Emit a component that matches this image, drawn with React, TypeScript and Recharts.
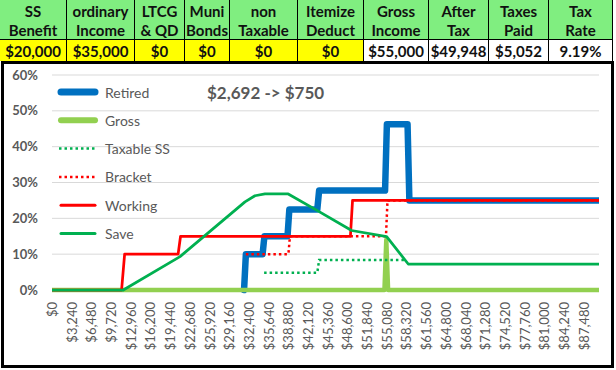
import React from 'react';
import { LineChart, Line, XAxis, YAxis, CartesianGrid } from 'recharts';

// input / result table
const headers = [
  ['SS', 'Benefit'],
  ['ordinary', 'Income'],
  ['LTCG', '& QD'],
  ['Muni', 'Bonds'],
  ['non', 'Taxable'],
  ['Itemize', 'Deduct'],
  ['Gross', 'Income'],
  ['After', 'Tax'],
  ['Taxes', 'Paid'],
  ['Tax', 'Rate'],
];
const values = ['$20,000', '$35,000', '$0', '$0', '$0', '$0', '$55,000', '$49,948', '$5,052', '9.19%'];
const inputCount = 6;
const colWidths = [67, 68, 50, 45, 68, 66, 65, 60, 60, 64];

// marginal rate curves: income ($) -> rate (%)
const retired = [
  { income: 31600, rate: 0 },
  { income: 31900, rate: 10 },
  { income: 34650, rate: 10 },
  { income: 34950, rate: 15 },
  { income: 38750, rate: 15 },
  { income: 39050, rate: 22.5 },
  { income: 43650, rate: 22.5 },
  { income: 43950, rate: 27.75 },
  { income: 54800, rate: 27.75 },
  { income: 55100, rate: 46.25 },
  { income: 58500, rate: 46.25 },
  { income: 58800, rate: 25 },
  { income: 90000, rate: 25 },
];
const gross = [
  { income: 0, rate: 0 },
  { income: 54700, rate: 0 },
  { income: 55000, rate: 14 },
  { income: 55300, rate: 0 },
  { income: 90000, rate: 0 },
];
const taxableSS = [
  { income: 34900, rate: 4.8 },
  { income: 43650, rate: 4.8 },
  { income: 43950, rate: 8.4 },
  { income: 58200, rate: 8.4 },
];
const bracket = [
  { income: 31900, rate: 10 },
  { income: 38900, rate: 10 },
  { income: 39150, rate: 15 },
  { income: 54950, rate: 15 },
  { income: 55200, rate: 25 },
  { income: 90000, rate: 25 },
];
const working = [
  { income: 0, rate: 0 },
  { income: 11450, rate: 0 },
  { income: 11950, rate: 10 },
  { income: 20750, rate: 10 },
  { income: 21150, rate: 15 },
  { income: 49100, rate: 15 },
  { income: 49450, rate: 25 },
  { income: 90000, rate: 25 },
];
const save = [
  { income: 0, rate: 0 },
  { income: 11730, rate: 0 },
  { income: 21060, rate: 9.3 },
  { income: 31750, rate: 24.6 },
  { income: 33390, rate: 26.3 },
  { income: 35040, rate: 26.8 },
  { income: 38870, rate: 26.8 },
  { income: 43810, rate: 22.0 },
  { income: 49300, rate: 16.6 },
  { income: 55060, rate: 14.9 },
  { income: 58610, rate: 7.25 },
  { income: 90000, rate: 7.25 },
];

const incomeTicks = [
  0, 3240, 6480, 9720, 12960, 16200, 19440, 22680, 25920, 29160, 32400, 35640, 38880, 42120,
  45360, 48600, 51840, 55080, 58320, 61560, 64800, 68040, 71280, 74520, 77760, 81000, 84240, 87480,
];
const rateTicks = [0, 10, 20, 30, 40, 50, 60];

const legendItems = [
  { name: 'Retired', color: '#0070C0', width: 7, dash: undefined },
  { name: 'Gross', color: '#92D050', width: 6, dash: undefined },
  { name: 'Taxable SS', color: '#00B050', width: 2.5, dash: '2.5 3' },
  { name: 'Bracket', color: '#FF0000', width: 2.5, dash: '2.5 3' },
  { name: 'Working', color: '#FF0000', width: 3, dash: undefined },
  { name: 'Save', color: '#00B050', width: 3, dash: undefined },
];

const FONT = 'Lato, sans-serif';
const TEXT = '#595959';

const money = (v: number) => '$' + v.toLocaleString('en-US');

const IncomeTick = ({ x, y, payload }: any) => (
  <g transform={`translate(${x},${y + 12})`}>
    <text transform="rotate(-90)" textAnchor="end" dominantBaseline="central" fontSize={13} fill={TEXT} fontFamily={FONT}>
      {money(payload.value)}
    </text>
  </g>
);

const InputTable = () => {
  let left = 0;
  return (
    <>
      {headers.map((h, i) => {
        const l = left;
        left += colWidths[i];
        return (
          <React.Fragment key={i}>
            <div
              style={{
                position: 'absolute', left: l, top: 0, width: colWidths[i], height: 40, boxSizing: 'border-box',
                borderRight: '1px solid #000', borderBottom: '1px solid #000', background: '#80EE80',
                textAlign: 'center', fontWeight: 700, fontSize: 15, lineHeight: '19px', paddingTop: 2, color: '#111',
              }}
            >
              {h[0]}<br />{h[1]}
            </div>
            <div
              style={{
                position: 'absolute', left: l, top: 40, width: colWidths[i], height: 21, boxSizing: 'border-box',
                borderRight: '1px solid #000', background: i < inputCount ? '#FFFF00' : '#fff',
                textAlign: 'center', fontWeight: 700, fontSize: 15, lineHeight: '22px', color: '#111',
              }}
            >
              {values[i]}
            </div>
          </React.Fragment>
        );
      })}
    </>
  );
};

const ChartLegend = () => (
  <svg width={200} height={190} style={{ position: 'absolute', left: 0, top: 0 }}>
    {legendItems.map((item, i) => {
      const y = 28 + i * 28.3;
      return (
        <g key={item.name}>
          <line
            x1={item.dash ? 55 : 57} x2={item.dash ? 93 : 91} y1={y} y2={y}
            stroke={item.color} strokeWidth={item.width} strokeDasharray={item.dash}
            strokeLinecap={item.dash ? 'butt' : 'round'}
          />
          <text x={101} y={y} dominantBaseline="central" fontSize={14} fill={TEXT} fontFamily={FONT}>
            {item.name}
          </text>
        </g>
      );
    })}
  </svg>
);

export default function App() {
  return (
    <div style={{ position: 'relative', width: 616, height: 370, background: '#fff', fontFamily: FONT, overflow: 'hidden' }}>
      <style>{'body{margin:0}'}</style>
      <InputTable />
      <div
        style={{
          position: 'absolute', left: 1, top: 61, width: 613, height: 307,
          border: '3px solid #000', boxSizing: 'border-box', background: '#fff',
        }}
      >
        <LineChart width={607} height={301} margin={{ top: 11, right: 12, bottom: 0, left: 0 }}>
          <CartesianGrid vertical={false} stroke="#D9D9D9" />
          <XAxis
            type="number" dataKey="income" domain={[0, 90000]} ticks={incomeTicks}
            allowDataOverflow axisLine={false} tickLine={false} tickSize={0} tickMargin={0}
            height={75} interval={0} tick={<IncomeTick />}
          />
          <YAxis
            type="number" domain={[0, 60]} ticks={rateTicks} width={48} axisLine={false} tickLine={false}
            tickSize={0} tickMargin={14} tickFormatter={(v) => `${v}%`}
            tick={{ fontSize: 13, fill: TEXT, fontFamily: FONT, fontWeight: 700 }}
          />
          <Line data={retired} dataKey="rate" name="Retired" stroke="#0070C0" strokeWidth={6.5} dot={false}
            strokeLinejoin="round" strokeLinecap="round" isAnimationActive={false} />
          <Line data={gross} dataKey="rate" name="Gross" stroke="#92D050" strokeWidth={4.5} dot={false}
            strokeLinejoin="round" isAnimationActive={false} />
          <Line data={taxableSS} dataKey="rate" name="Taxable SS" stroke="#00B050" strokeWidth={2.5} strokeDasharray="2.5 3"
            dot={false} isAnimationActive={false} />
          <Line data={bracket} dataKey="rate" name="Bracket" stroke="#FF0000" strokeWidth={2.5} strokeDasharray="2.5 3"
            dot={false} isAnimationActive={false} />
          <Line data={working} dataKey="rate" name="Working" stroke="#FF0000" strokeWidth={2.75} dot={false}
            strokeLinejoin="round" isAnimationActive={false} />
          <Line data={save} dataKey="rate" name="Save" stroke="#00B050" strokeWidth={2.75} dot={false}
            strokeLinejoin="round" isAnimationActive={false} />
        </LineChart>
        <ChartLegend />
        <div
          style={{
            position: 'absolute', left: 203, top: 18, fontSize: 17, fontWeight: 700, color: TEXT,
            lineHeight: '22px', whiteSpace: 'nowrap',
          }}
        >
          $2,692 -&gt; $750
        </div>
      </div>
    </div>
  );
}
